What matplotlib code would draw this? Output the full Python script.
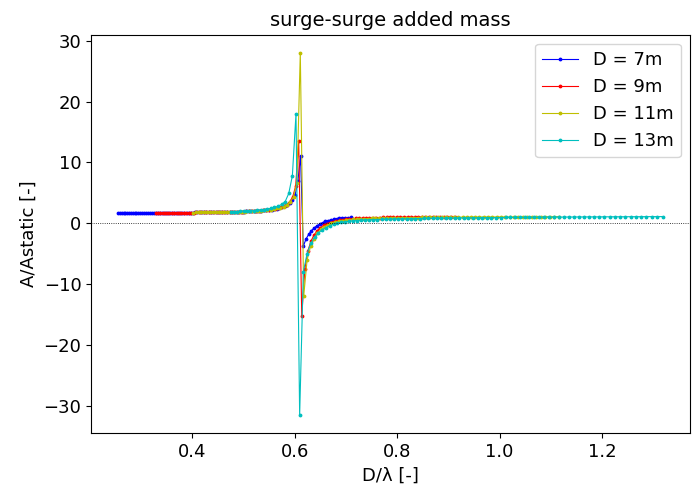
import numpy as np
import matplotlib
matplotlib.use("Agg")
import matplotlib.pyplot as plt

# wave frequency grid (rad/s) shared by all diameters
omega = np.linspace(1.50, 2.50, 101)
g = 9.81
diameters = [7, 9, 11, 13]
labels = ["D = 7m", "D = 9m", "D = 11m", "D = 13m"]
colors = ["b", "r", "y", "c"]

A_D7 = [1.69, 1.69, 1.69, 1.70, 1.70, 1.70, 1.70, 1.70, 1.70, 1.70,
        1.70, 1.70, 1.71, 1.71, 1.71, 1.71, 1.71, 1.71, 1.72, 1.72,
        1.72, 1.72, 1.72, 1.73, 1.73, 1.73, 1.73, 1.74, 1.74, 1.74,
        1.74, 1.75, 1.75, 1.75, 1.76, 1.76, 1.76, 1.77, 1.77, 1.78,
        1.78, 1.78, 1.79, 1.79, 1.80, 1.80, 1.81, 1.81, 1.82, 1.82,
        1.83, 1.84, 1.85, 1.85, 1.86, 1.87, 1.88, 1.89, 1.91, 1.92,
        1.94, 1.95, 1.97, 1.99, 2.01, 2.03, 2.06, 2.09, 2.12, 2.16,
        2.21, 2.26, 2.32, 2.40, 2.50, 2.62, 2.77, 2.99, 3.30, 3.80,
        4.71, 6.90, 11.0, -3.80, -2.60, -1.80, -1.20, -0.75, -0.40, -0.10,
        0.12, 0.30, 0.45, 0.57, 0.67, 0.75, 0.81, 0.86, 0.90, 0.93,
        0.96]

A_D9 = [1.72, 1.72, 1.73, 1.73, 1.73, 1.73, 1.74, 1.74, 1.74, 1.75,
        1.75, 1.75, 1.76, 1.76, 1.76, 1.77, 1.77, 1.78, 1.78, 1.79,
        1.79, 1.80, 1.80, 1.81, 1.82, 1.83, 1.83, 1.84, 1.85, 1.86,
        1.87, 1.88, 1.90, 1.91, 1.92, 1.94, 1.96, 1.98, 2.00, 2.03,
        2.06, 2.09, 2.13, 2.18, 2.24, 2.30, 2.39, 2.49, 2.63, 2.82,
        3.09, 3.52, 4.30, 6.10, 13.5, -15.2, -7.5, -4.5, -2.9, -1.9,
        -1.2, -0.70, -0.35, -0.08, 0.12, 0.28, 0.40, 0.50, 0.58, 0.65,
        0.72, 0.76, 0.80, 0.83, 0.86, 0.88, 0.90, 0.92, 0.94, 0.95,
        0.97, 0.98, 0.99, 1.00, 1.01, 1.02, 1.03, 1.03, 1.04, 1.04,
        1.05, 1.05, 1.06, 1.06, 1.07, 1.07, 1.08, 1.08, 1.09, 1.09,
        1.10]

A_D11 = [1.77, 1.78, 1.78, 1.79, 1.79, 1.80, 1.81, 1.81, 1.82, 1.83,
         1.84, 1.85, 1.86, 1.87, 1.88, 1.90, 1.91, 1.93, 1.94, 1.96,
         1.99, 2.02, 2.06, 2.09, 2.14, 2.19, 2.26, 2.34, 2.44, 2.58,
         2.76, 3.05, 3.49, 4.38, 6.70, 28.0, -12.0, -6.0, -3.8, -2.5,
         -1.6, -1.0, -0.55, -0.20, 0.05, 0.22, 0.35, 0.45, 0.53, 0.60,
         0.65, 0.69, 0.72, 0.75, 0.78, 0.80, 0.82, 0.84, 0.86, 0.87,
         0.88, 0.89, 0.90, 0.91, 0.92, 0.93, 0.94, 0.95, 0.96, 0.96,
         0.97, 0.98, 0.98, 0.99, 0.99, 1.00, 1.00, 1.01, 1.01, 1.02,
         1.02, 1.03, 1.03, 1.03, 1.04, 1.04, 1.04, 1.05, 1.05, 1.05,
         1.06, 1.06, 1.06, 1.07, 1.07, 1.07, 1.08, 1.08, 1.08, 1.09,
         1.09]

A_D13 = [1.88, 1.90, 1.92, 1.95, 1.97, 2.01, 2.04, 2.08, 2.13, 2.19,
         2.26, 2.35, 2.46, 2.61, 2.81, 3.10, 3.56, 4.90, 7.80, 18.0,
         -31.5, -8.0, -5.0, -3.3, -2.3, -1.6, -1.1, -0.70, -0.40, -0.15,
         0.05, 0.18, 0.28, 0.35, 0.41, 0.46, 0.50, 0.54, 0.57, 0.60,
         0.62, 0.64, 0.66, 0.68, 0.70, 0.72, 0.73, 0.75, 0.76, 0.78,
         0.79, 0.80, 0.81, 0.82, 0.83, 0.84, 0.85, 0.86, 0.87, 0.88,
         0.89, 0.90, 0.91, 0.91, 0.92, 0.93, 0.94, 0.94, 0.95, 0.96,
         0.96, 0.97, 0.98, 0.98, 0.99, 1.00, 1.00, 1.01, 1.02, 1.02,
         1.03, 1.03, 1.04, 1.04, 1.05, 1.05, 1.06, 1.06, 1.06, 1.07,
         1.07, 1.08, 1.08, 1.08, 1.09, 1.09, 1.09, 1.10, 1.10, 1.10,
         1.11]

series = [A_D7, A_D9, A_D11, A_D13]

plt.rcParams["font.family"] = ["DejaVu Sans"]
plt.rcParams["font.size"] = 13

fig = plt.figure(figsize=(6.96, 4.90), dpi=100)
ax = fig.add_axes([0.131, 0.116, 0.860, 0.813])

for D, vals, lab, col in zip(diameters, series, labels, colors):
    wavelength = 2 * np.pi * g / omega**2
    x = D / wavelength
    ax.plot(x, vals, color=col, marker=".", markersize=3.5, linewidth=0.8,
            label=lab)

ax.axhline(0, color="k", linestyle=":", linewidth=0.6)
ax.set_title("surge-surge added mass", fontsize=14)
ax.set_xlabel("D/\u03bb [-]")
ax.set_ylabel("A/Astatic [-]")
ax.set_yticks([-30, -20, -10, 0, 10, 20, 30])
ax.set_xticks([0.4, 0.6, 0.8, 1.0, 1.2])
ax.legend(loc="upper right", fontsize=13)

fig.savefig("out.png", dpi=100)
